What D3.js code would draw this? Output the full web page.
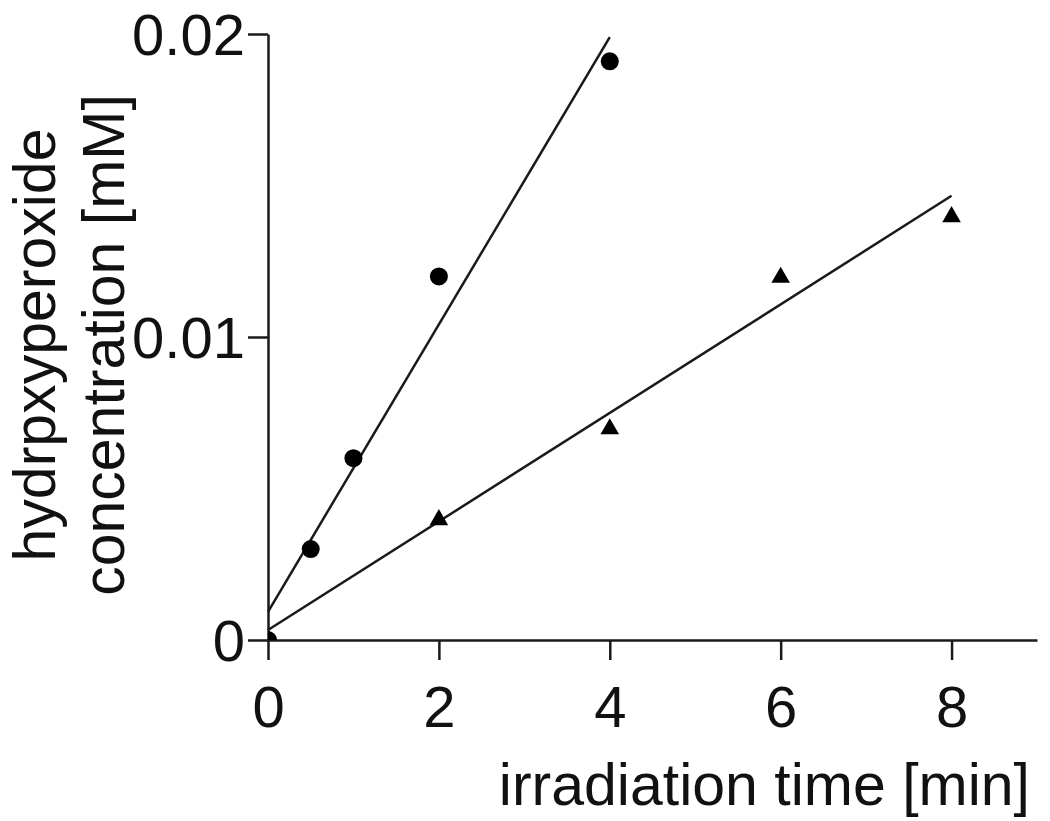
<!DOCTYPE html>
<html><head><meta charset="utf-8">
<script src="https://cdn.jsdelivr.net/npm/d3@7"></script>
<style>body{margin:0;background:#fff}svg{display:block}text{font-family:"Liberation Sans",Arial,sans-serif;fill:#111}</style>
</head><body><svg id="c" width="1050" height="821"></svg>
<script>
const xTicks = [0, 2, 4, 6, 8];
const yTicks = [0, 0.01, 0.02];
const yTickLabels = ["0", "0.01", "0.02"];
const circleX = [0, 0.5, 1, 2, 4];
const circleY = [0, 0.003, 0.006, 0.012, 0.0191];
const triangleX = [2, 4, 6, 8];
const triangleY = [0.004, 0.007, 0.012, 0.014];
const circleFitX = [0, 4];
const circleFitY = [0.00093, 0.0199];
const triangleFitX = [0, 8];
const triangleFitY = [0.00033, 0.01466];
const xLabel = "irradiation time [min]";
const yLabelLines = ["hydrpxyperoxide", "concentration [mM]"];

const svg = d3.select("#c");
const x = d3.scaleLinear().domain([0, 9]).range([268, 1037]);
const y = d3.scaleLinear().domain([0, 0.02]).range([640, 34]);
const ink = "#1a1a1a";

svg.append("clipPath").attr("id", "plot").append("rect")
  .attr("x", x(0)).attr("y", 0).attr("width", x(9) - x(0) + 20).attr("height", y(0));

const xAxis = svg.append("g").attr("transform", "translate(0,640)")
  .call(d3.axisBottom(x).tickValues(xTicks).tickSize(20).tickPadding(26).tickSizeOuter(0).tickFormat(d3.format("d")));
const yAxis = svg.append("g").attr("transform", "translate(268,0)")
  .call(d3.axisLeft(y).tickValues(yTicks).tickSize(20).tickPadding(3).tickSizeOuter(0).tickFormat((d, i) => yTickLabels[i]));
[xAxis, yAxis].forEach(g => {
  g.select(".domain").attr("stroke", ink).attr("stroke-width", 2.5);
  g.selectAll(".tick line").attr("stroke", ink).attr("stroke-width", 2.5);
  g.selectAll(".tick text").attr("font-size", 58).attr("font-family", "Liberation Sans, Arial, sans-serif").attr("fill", "#111");
});
xAxis.selectAll(".tick text").attr("dy", "0.71em");
yAxis.selectAll(".tick text").attr("dy", "0.35em");

const line = d3.line().x(d => x(d[0])).y(d => y(d[1]));
svg.append("path").datum(circleFitX.map((v, i) => [v, circleFitY[i]]))
  .attr("d", line).attr("fill", "none").attr("stroke", ink).attr("stroke-width", 2.5);
svg.append("path").datum(triangleFitX.map((v, i) => [v, triangleFitY[i]]))
  .attr("d", line).attr("fill", "none").attr("stroke", ink).attr("stroke-width", 2.5);

svg.append("g").attr("clip-path", "url(#plot)")
  .selectAll("circle.pt").data(circleX.map((v, i) => [v, circleY[i]])).enter()
  .append("circle").attr("class", "pt")
  .attr("cx", d => x(d[0])).attr("cy", d => y(d[1])).attr("r", 9).attr("fill", "#000");

const tri = d3.symbol().type(d3.symbolTriangle).size(150);
svg.selectAll("path.tri").data(triangleX.map((v, i) => [v, triangleY[i]])).enter()
  .append("path").attr("class", "tri").attr("d", tri)
  .attr("transform", d => `translate(${x(d[0])},${y(d[1]) + 1})`).attr("fill", "#000");

svg.append("text").attr("x", 1030).attr("y", 805).attr("text-anchor", "end")
  .attr("font-size", 59).text(xLabel);

const yl = svg.append("g").attr("transform", "translate(0,345) rotate(-90)");
yLabelLines.forEach((t, i) => {
  yl.append("text").attr("x", 0).attr("y", 55 + i * 69).attr("text-anchor", "middle")
    .attr("font-size", 59).text(t);
});
</script></body></html>
